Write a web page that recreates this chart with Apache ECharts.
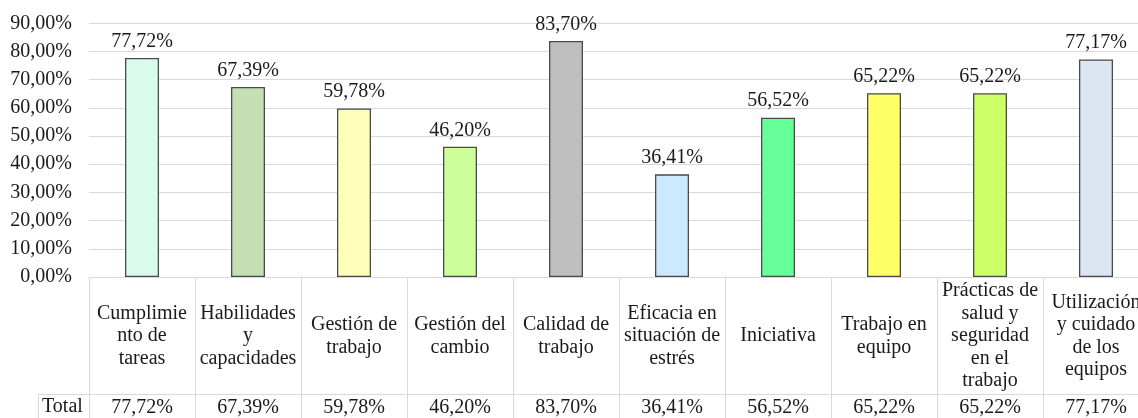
<!DOCTYPE html>
<html>
<head>
<meta charset="utf-8">
<script src="https://cdn.jsdelivr.net/npm/echarts@6/dist/echarts.min.js"></script>
<style>html,body{margin:0;padding:0;background:#fff;}#c{width:1138px;height:418px;}</style>
</head>
<body>
<div id="c"></div>
<script>
var categories = [
  "Cumplimie\nnto de\ntareas",
  "Habilidades\ny\ncapacidades",
  "Gestión de\ntrabajo",
  "Gestión del\ncambio",
  "Calidad de\ntrabajo",
  "Eficacia en\nsituación de\nestrés",
  "Iniciativa",
  "Trabajo en\nequipo",
  "Prácticas de\nsalud y\nseguridad\nen el\ntrabajo",
  "Utilización\ny cuidado\nde los\nequipos"
];
var values = [77.72, 67.39, 59.78, 46.20, 83.70, 36.41, 56.52, 65.22, 65.22, 77.17];
var rowLabel = "Total";
var yTicks = { min: 0, max: 90, interval: 10 };
var barColors = ["#D8FBEE", "#C4DFB4", "#FFFFBB", "#CCFF99", "#BFBFBF", "#CCE9FF", "#66FF99", "#FFFF66", "#CCFF66", "#DCE6F2"];

function pct(v) { return v.toFixed(2).replace('.', ',') + '%'; }

var FONT = "Liberation Serif, Times New Roman, serif";
var FS = 20;
var TXT = "#1a1a1a";
var LINE = "#d9d9d9";

var chart = echarts.init(document.getElementById('c'), null, { renderer: 'canvas' });
chart.setOption({
  animation: false,
  backgroundColor: '#fff',
  grid: { left: 89, top: 23.3, width: 1060, height: 253.7, containLabel: false, outerBoundsMode: 'none' },
  xAxis: [
    {
      type: 'category',
      data: categories,
      position: 'bottom',
      axisLine: { show: true, lineStyle: { color: LINE, width: 1 } },
      axisTick: { show: true, interval: 0, length: 145, lineStyle: { color: LINE, width: 1 } },
      axisLabel: {
        interval: 0, margin: 59, verticalAlign: 'middle', hideOverlap: false,
        fontFamily: FONT, fontSize: FS, lineHeight: 22.5, color: TXT
      },
      splitLine: { show: false }
    },
    {
      type: 'category',
      data: values.map(pct),
      position: 'bottom',
      gridIndex: 0,
      axisLine: { show: false },
      axisTick: { show: false },
      axisLabel: {
        interval: 0, margin: 131, verticalAlign: 'middle',
        fontFamily: FONT, fontSize: FS, color: TXT
      },
      splitLine: { show: false }
    }
  ],
  yAxis: {
    type: 'value',
    min: yTicks.min, max: yTicks.max, interval: yTicks.interval,
    axisLine: { show: false },
    axisTick: { show: false },
    splitLine: { show: true, lineStyle: { color: LINE, width: 1 } },
    axisLabel: { margin: 17, fontFamily: FONT, fontSize: FS, color: TXT, formatter: pct }
  },
  series: [{
    type: 'bar',
    xAxisIndex: 0,
    barWidth: 34,
    data: values.map(function (v, i) {
      return { value: v, itemStyle: { color: barColors[i], borderColor: '#4a4a4a', borderWidth: 1.3 } };
    }),
    label: {
      show: true, position: 'top', distance: 6,
      fontFamily: FONT, fontSize: FS, lineHeight: 21, color: TXT,
      formatter: function (p) { return pct(p.value); }
    }
  }],
  graphic: [
    { type: 'line', shape: { x1: 38, y1: 394.5, x2: 1138, y2: 394.5 }, style: { stroke: LINE, lineWidth: 1 } },
    { type: 'line', shape: { x1: 38.5, y1: 394.5, x2: 38.5, y2: 418 }, style: { stroke: LINE, lineWidth: 1 } },
    { type: 'text', left: 42, top: 397, style: { text: rowLabel, font: FS + 'px Liberation Serif, Times New Roman, serif', fill: TXT } }
  ]
});
</script>
</body>
</html>
